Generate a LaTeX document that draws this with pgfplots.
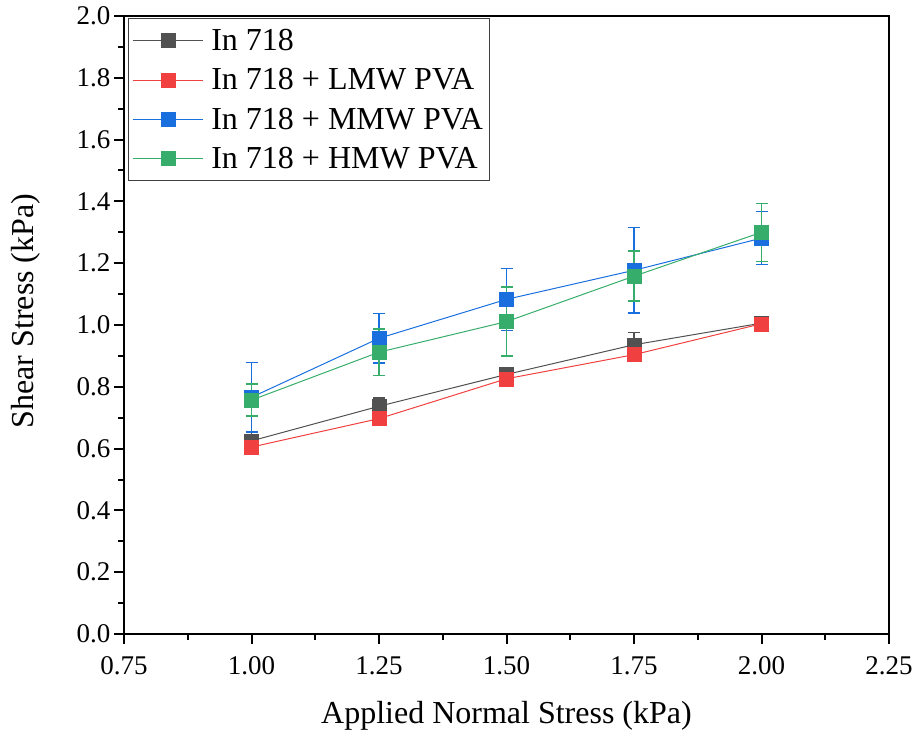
\documentclass[border=0pt]{standalone}
\usepackage{fontspec}
\setmainfont{Liberation Serif}
\usepackage{pgfplots}
\pgfplotsset{compat=1.18}
\definecolor{cblack}{HTML}{515151}
\definecolor{cred}{HTML}{F14040}
\definecolor{cblue}{HTML}{1A6FDF}
\definecolor{cgreen}{HTML}{37AD6B}
\begin{document}
\begin{tikzpicture}
\begin{axis}[
  scale only axis,
  width=765pt, height=618pt,
  xmin=0.75, xmax=2.25, ymin=0, ymax=2.0,
  xtick={0.75,1.00,1.25,1.50,1.75,2.00,2.25},
  ytick={0,0.2,...,2.0},
  minor tick num=1,
  xtick pos=bottom, ytick pos=left,
  tick align=outside,
  major tick length=10pt, minor tick length=6pt,
  every tick/.style={line width=2pt, black},
  axis line style={line width=2.5pt},
  /pgf/number format/assume math mode=true,
  xticklabel={\fontsize{27}{30}\selectfont\pgfmathprintnumber[fixed,fixed zerofill,precision=2]{\tick}},
  yticklabel={\fontsize{27}{30}\selectfont\pgfmathprintnumber[fixed,fixed zerofill,precision=1]{\tick}},
  xticklabel style={yshift=-9pt},
  yticklabel style={xshift=0pt},
  xlabel={Applied Normal Stress (kPa)},
  ylabel={Shear Stress (kPa)},
  label style={font=\fontsize{32}{36}\selectfont},
  xlabel style={at={(axis description cs:0.5,0)}, anchor=center, yshift=-82pt},
  ylabel style={anchor=center},
  every axis y label/.append style={at={([xshift=-98pt,yshift=14pt]axis description cs:0,0.5)}},
  legend style={at={(0.005,0.997)}, anchor=north west, draw=black!75, line width=1pt,
    font=\fontsize{32}{36}\selectfont, row sep=12.5pt, column sep=6pt, inner xsep=4pt, inner ysep=9pt},
  legend cell align=left,
  legend image code/.code={\draw[mark repeat=2,mark phase=2,#1] plot coordinates {(0pt,0pt) (35pt,0pt) (70pt,0pt)};},
  every axis plot/.append style={line width=1pt, mark=square*, mark size=7pt,
     error bars/y dir=both, error bars/y explicit,
     error bars/error bar style={line width=1.5pt},
     error bars/error mark options={rotate=90, mark size=6pt, line width=1.5pt}},
]
\addplot[color=cblack, mark options={fill=cblack, draw=cblack, line width=0.5pt}] coordinates {
 (1.00,0.625) +- (0,0.030)
 (1.25,0.737) +- (0,0.027)
 (1.50,0.840) +- (0,0.018)
 (1.75,0.936) +- (0,0.040)
 (2.00,1.006) +- (0,0.005)
};
\addlegendentry{In 718}
\addplot[color=cred, mark options={fill=cred, draw=cred, line width=0.5pt}] coordinates {
 (1.00,0.605) +- (0,0.012)
 (1.25,0.697) +- (0,0.012)
 (1.50,0.826) +- (0,0.012)
 (1.75,0.904) +- (0,0.012)
 (2.00,1.004) +- (0,0.006)
};
\addlegendentry{In 718 + LMW PVA}
\addplot[color=cblue, mark options={fill=cblue, draw=cblue, line width=0.5pt}] coordinates {
 (1.00,0.766) +- (0,0.112)
 (1.25,0.957) +- (0,0.080)
 (1.50,1.083) +- (0,0.100)
 (1.75,1.177) +- (0,0.138)
 (2.00,1.281) +- (0,0.086)
};
\addlegendentry{In 718 + MMW PVA}
\addplot[color=cgreen, mark options={fill=cgreen, draw=cgreen, line width=0.5pt}] coordinates {
 (1.00,0.757) +- (0,0.052)
 (1.25,0.912) +- (0,0.075)
 (1.50,1.011) +- (0,0.112)
 (1.75,1.158) +- (0,0.081)
 (2.00,1.300) +- (0,0.094)
};
\addlegendentry{In 718 + HMW PVA}
\end{axis}
\pgfresetboundingbox
\path[use as bounding box] (-124pt,-100pt) rectangle (791pt,634pt);
\end{tikzpicture}
\end{document}
